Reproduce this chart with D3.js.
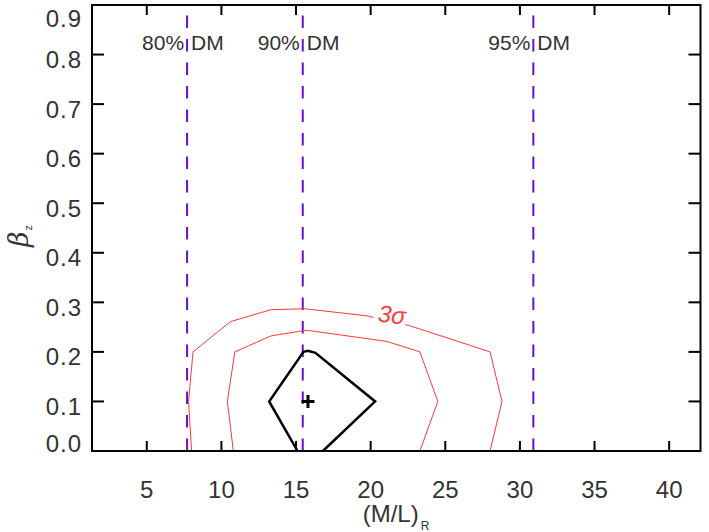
<!DOCTYPE html>
<html>
<head>
<meta charset="utf-8">
<script src="https://cdn.jsdelivr.net/npm/d3@7"></script>
<style>
  body { margin: 0; background: #fff; }
  text { font-family: "Liberation Sans", Arial, sans-serif; }
</style>
</head>
<body>
<svg id="chart" width="709" height="532"></svg>
<script>
// tick values
var xTicks = [5, 10, 15, 20, 25, 30, 35, 40];
var yTicks = [0, 0.1, 0.2, 0.3, 0.4, 0.5, 0.6, 0.7, 0.8, 0.9];

// dark matter fraction lines
var dmLabels = ["80%", "90%", "95%"];
var dmValues = [7.7, 15.45, 30.9];

// contours [M/L, beta_z]
var contourOuter = [[8.0,0],[7.8,0.1],[8.1,0.2],[10.6,0.261],[13.3,0.285],[15.5,0.287],[15.9,0.286],[19.7,0.273],[22.6,0.253],[28.0,0.2],[28.8,0.1],[28.0,0]];
var contourMid = [[10.8,0],[10.4,0.1],[10.9,0.2],[13.3,0.232],[15.5,0.243],[15.9,0.243],[21.1,0.221],[23.3,0.2],[24.5,0.1],[23.3,0]];
var contourInner = [[15.1,0],[13.2,0.1],[15.5,0.2],[15.8,0.202],[16.3,0.198],[20.3,0.1],[16.8,0]];
var bestFit = [15.8, 0.1];

var svg = d3.select("#chart");
// plot box (don't call these top/left, window.top is taken)
var pLeft = 92, pRight = 700.5, pTop = 5, pBottom = 451;

var x = d3.scaleLinear().domain([1.33, 42.1]).range([pLeft, pRight]);
var y = d3.scaleLinear().domain([0, 0.9]).range([pBottom, pTop]);

var red = "#ff3838", purple = "#6a0fd0", labelCol = "#333";

// DM lines (drawn from bottom up so dash phase matches)
var dm = svg.append("g");
dmValues.forEach(function(v, i) {
    dm.append("line")
        .attr("x1", x(v)).attr("x2", x(v))
        .attr("y1", y(0)).attr("y2", y(0.9))
        .attr("stroke", purple)
        .attr("stroke-width", 2)
        .attr("stroke-dasharray", "12.5 11");
    dm.append("text")
        .attr("x", x(v) - 3).attr("y", 50)
        .attr("text-anchor", "end")
        .attr("font-size", 21).attr("fill", labelCol)
        .text(dmLabels[i]);
    dm.append("text")
        .attr("x", x(v) + 4).attr("y", 50)
        .attr("font-size", 21).attr("fill", labelCol)
        .text("DM");
});

var line = d3.line().x(d => x(d[0])).y(d => y(d[1]));

svg.append("path").datum(contourOuter)
    .attr("d", line).attr("fill", "none")
    .attr("stroke", red).attr("stroke-width", 1);
svg.append("path").datum(contourMid)
    .attr("d", line).attr("fill", "none")
    .attr("stroke", red).attr("stroke-width", 1);
svg.append("path").datum(contourInner)
    .attr("d", line).attr("fill", "none")
    .attr("stroke", "#000").attr("stroke-width", 2.5)
    .attr("stroke-linejoin", "miter");

// contour label with white halo to break the line
svg.append("text")
    .attr("transform", "translate(391,323) rotate(6)")
    .attr("text-anchor", "middle")
    .attr("font-size", 24)
    .attr("font-style", "italic")
    .attr("fill", red)
    .attr("stroke", "#fff").attr("stroke-width", 9)
    .attr("paint-order", "stroke")
    .text("3σ");

// best fit marker
var bx = x(bestFit[0]), by = y(bestFit[1]);
svg.append("path")
    .attr("d", "M" + (bx - 6.5) + "," + by + "H" + (bx + 6.5) + "M" + bx + "," + (by - 6.5) + "V" + (by + 6.5))
    .attr("stroke", "#000").attr("stroke-width", 3);

// frame + ticks
var axes = svg.append("g").attr("stroke", "#000").attr("stroke-width", 2);
axes.append("rect")
    .attr("x", pLeft).attr("y", pTop)
    .attr("width", pRight - pLeft).attr("height", pBottom - pTop)
    .attr("fill", "none");

xTicks.forEach(function(t) {
    axes.append("line").attr("x1", x(t)).attr("x2", x(t)).attr("y1", pBottom).attr("y2", pBottom - 10);
    axes.append("line").attr("x1", x(t)).attr("x2", x(t)).attr("y1", pTop).attr("y2", pTop + 10);
});
yTicks.forEach(function(t) {
    axes.append("line").attr("x1", pLeft).attr("x2", pLeft + 12).attr("y1", y(t)).attr("y2", y(t));
    axes.append("line").attr("x1", pRight).attr("x2", pRight - 12).attr("y1", y(t)).attr("y2", y(t));
});

// tick labels
svg.append("g").selectAll("text")
    .data(xTicks)
    .join("text")
    .attr("x", d => x(d)).attr("y", 498)
    .attr("text-anchor", "middle")
    .attr("font-size", 24).attr("fill", labelCol)
    .text(d => d);

svg.append("g").selectAll("text")
    .data(yTicks)
    .join("text")
    .attr("x", 82)
    .attr("y", d => Math.max(27, Math.min(452, y(d) + 13.5)))
    .attr("text-anchor", "end")
    .attr("font-size", 24).attr("fill", labelCol)
    .attr("letter-spacing", 1)
    .text(d => d.toFixed(1));

// axis titles
var xt = svg.append("text")
    .attr("x", 396).attr("y", 522)
    .attr("text-anchor", "middle")
    .attr("font-size", 24).attr("fill", labelCol);
xt.append("tspan").text("(M/L)");
xt.append("tspan").attr("font-size", 12).attr("dy", 8).attr("dx", 2).text("R");

var yt = svg.append("text")
    .attr("transform", "translate(28,236) rotate(-90)")
    .attr("text-anchor", "middle")
    .attr("fill", labelCol);
yt.append("tspan").attr("font-size", 27).attr("font-style", "italic")
    .attr("font-family", "'DejaVu Serif', serif").text("β");
yt.append("tspan").attr("font-size", 11).attr("dy", 4).attr("dx", 1).text("z");
</script>
</body>
</html>
